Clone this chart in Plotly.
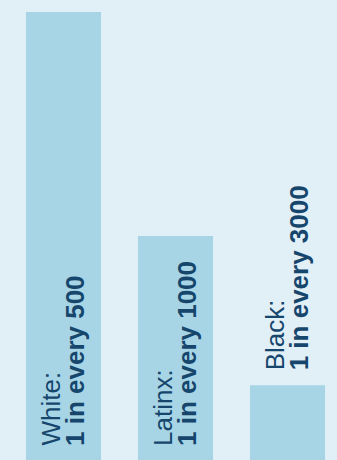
import plotly.graph_objects as go

# Rates shown as "1 in every N"
groups = ["White", "Latinx", "Black"]
one_in_every = [500, 1000, 3000]

rates = [1.0 / n for n in one_in_every]

BG = "#e1eff7"
BAR = "#a7d5e6"
INK = "#16466c"
FONT = "Liberation Sans, Arial, Helvetica, sans-serif"

x_pos = list(range(len(groups)))

fig = go.Figure(
    go.Bar(
        x=x_pos,
        y=rates,
        width=0.67,
        marker=dict(color=BAR, line=dict(width=0)),
        hoverinfo="skip",
    )
)

y_top = max(rates) * 460 / 448
annotations = []
for i, (g, n, r) in enumerate(zip(groups, one_in_every, rates)):
    inside = r > y_top / 4
    base_y = 0 if inside else r
    shift = 12 if inside else 13
    common = dict(
        x=i, y=base_y, xref="x", yref="y",
        textangle=-90, showarrow=False,
        xanchor="center", yanchor="bottom", yshift=shift,
    )
    annotations.append(dict(
        text=f"{g}:", xshift=-13,
        font=dict(family=FONT, size=26, color=INK), **common,
    ))
    annotations.append(dict(
        text=f"<b>1 in every {n}</b>", xshift=11,
        font=dict(family=FONT, size=26, color=INK), **common,
    ))

fig.update_layout(
    width=337, height=460,
    margin=dict(l=0, r=0, t=0, b=0),
    paper_bgcolor=BG, plot_bgcolor=BG,
    showlegend=False,
    annotations=annotations,
    xaxis=dict(range=[-63.5 / 112, (337 - 63.5) / 112], visible=False, fixedrange=True),
    yaxis=dict(range=[0, y_top], visible=False, fixedrange=True),
)

fig.write_html("out.html", config={"displayModeBar": False})
